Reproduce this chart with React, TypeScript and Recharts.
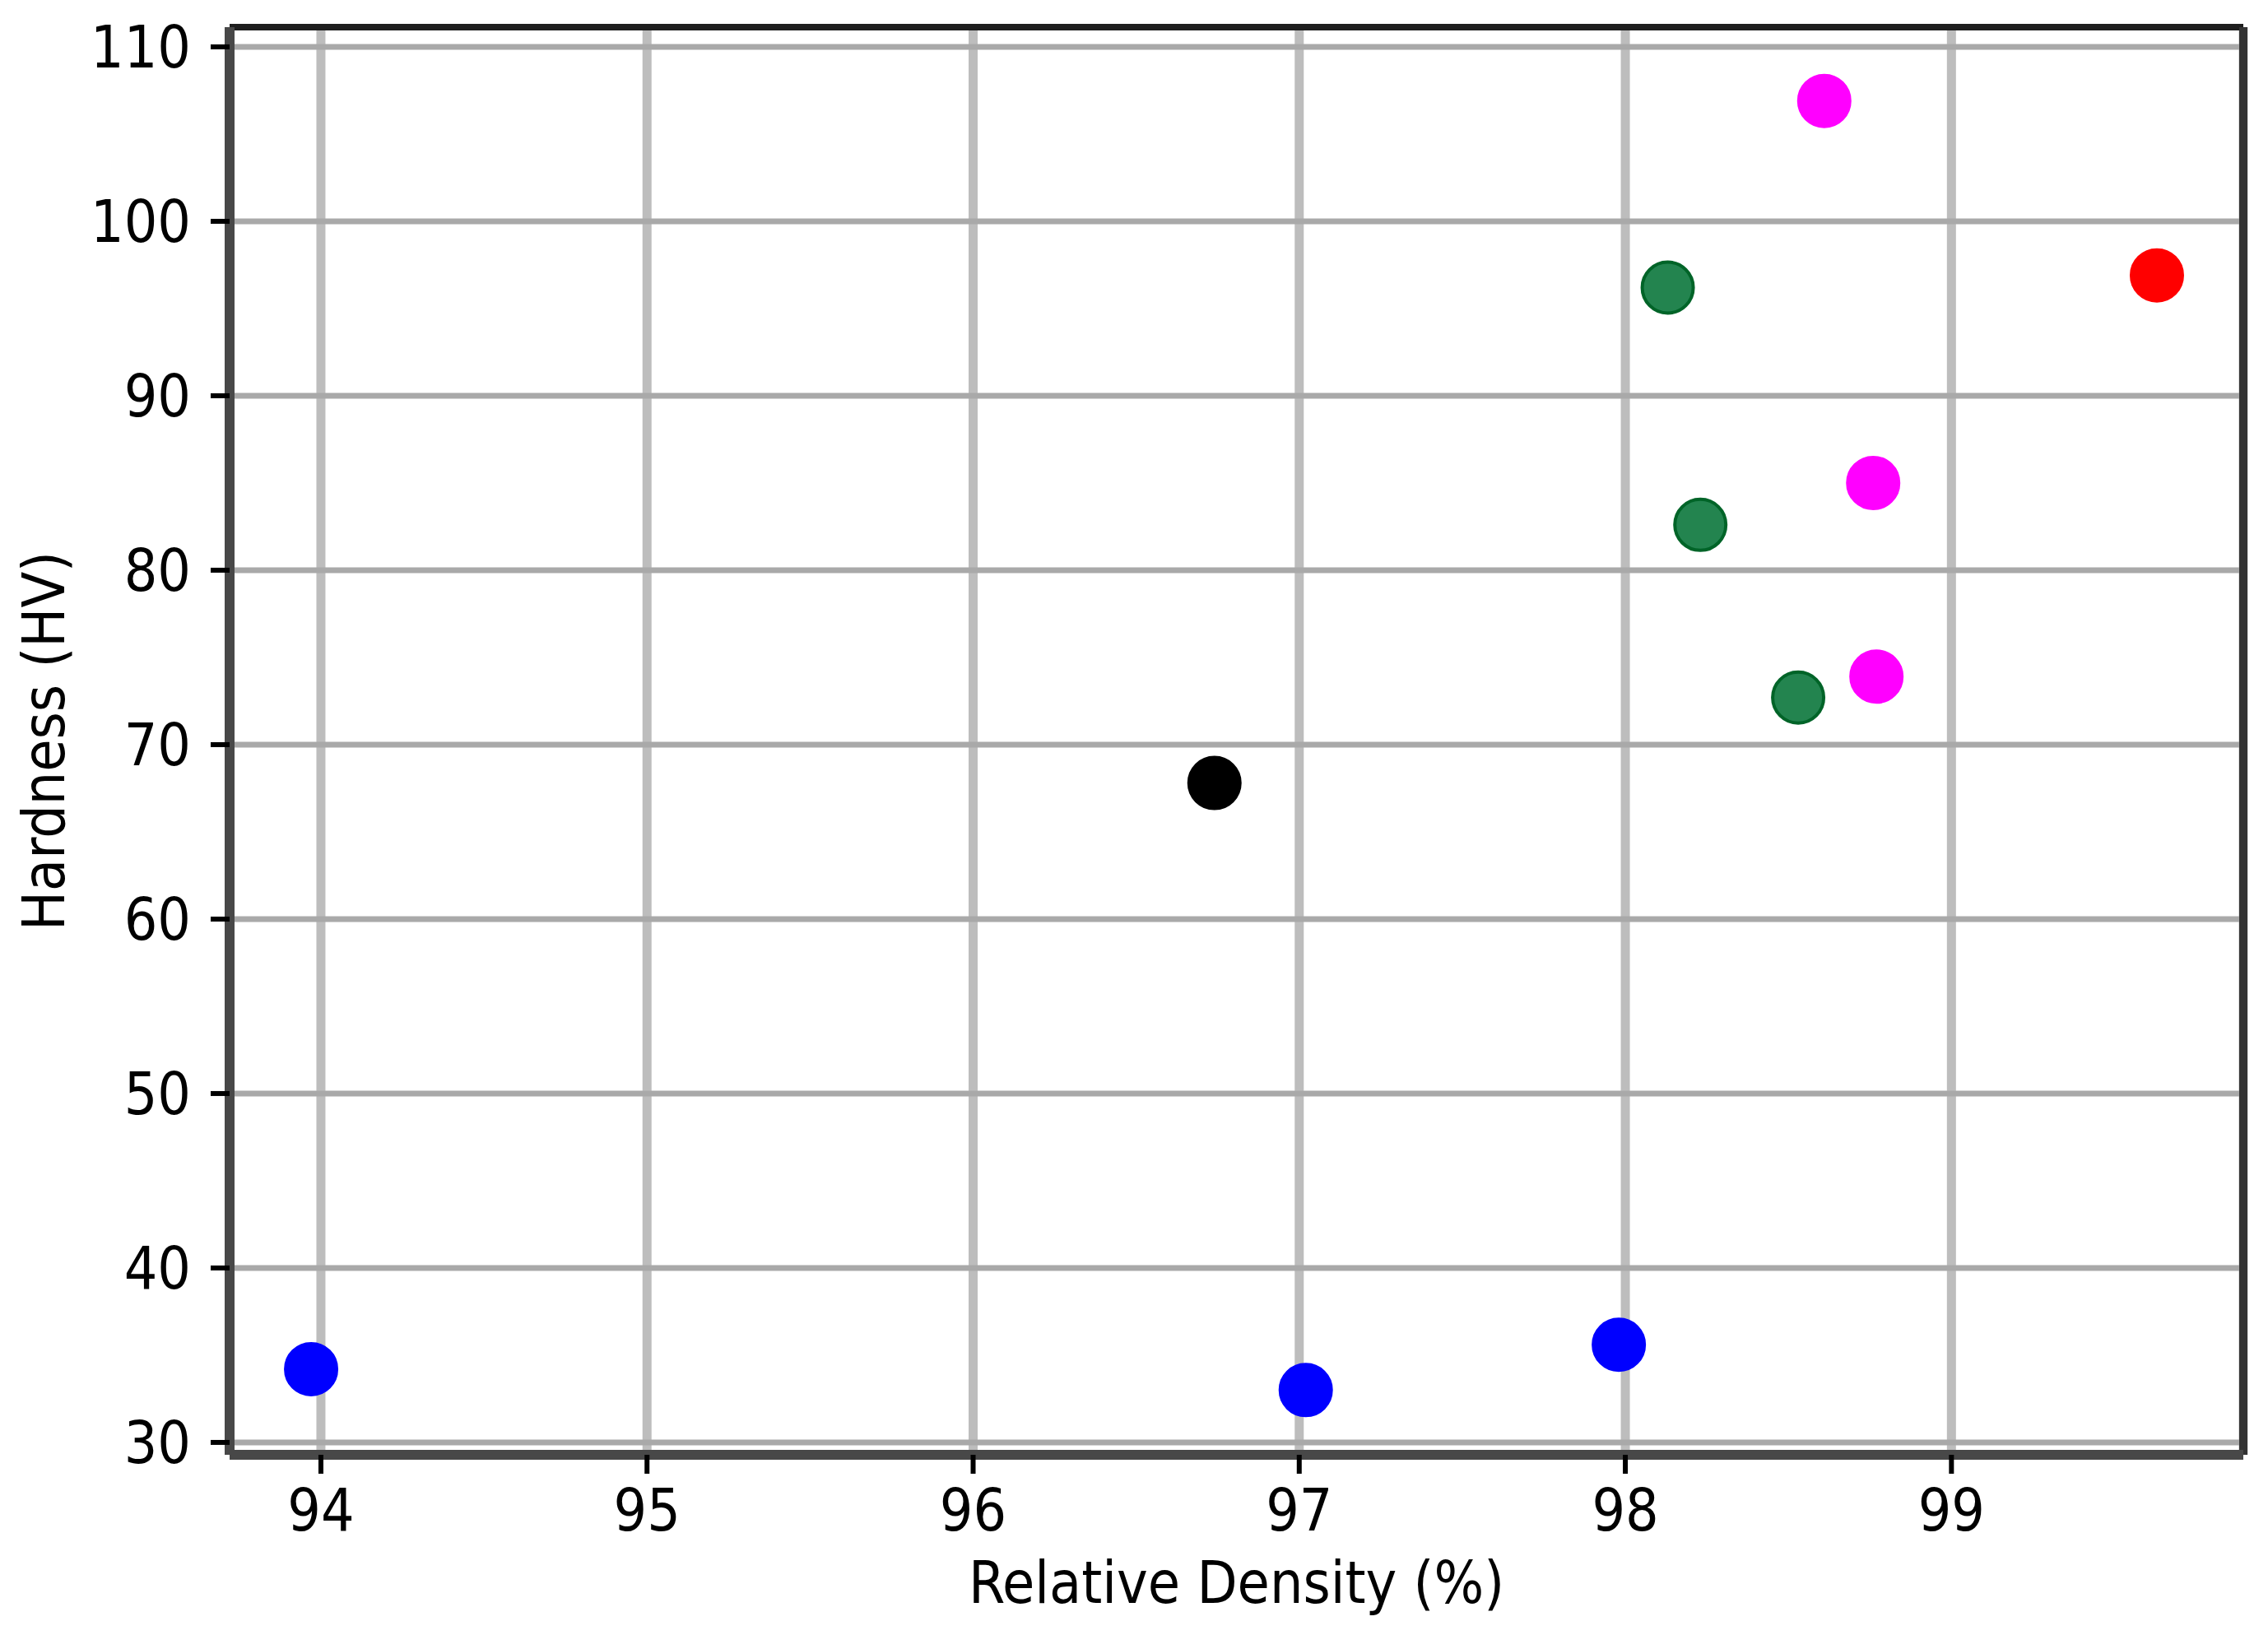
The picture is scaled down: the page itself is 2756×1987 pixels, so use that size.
import {
  CartesianGrid,
  ReferenceLine,
  Scatter,
  ScatterChart,
  XAxis,
  YAxis
} from "recharts";

// values
const blueDensity = [93.97, 97.02, 97.98];
const blueHardness = [34.2, 33.0, 35.6];
const blackDensity = [96.74];
const blackHardness = [67.8];
const greenDensity = [98.13, 98.23, 98.53];
const greenHardness = [96.2, 82.6, 72.7];
const magentaDensity = [98.61, 98.76, 98.77];
const magentaHardness = [106.9, 85.0, 73.9];
const redDensity = [99.63];
const redHardness = [96.9];

const xTicks = [94, 95, 96, 97, 98, 99];
const yTicks = [30, 40, 50, 60, 70, 80, 90, 100, 110];

const X_MIN = 93.72;
const X_MAX = 99.895;
const Y_MIN = 29.29;
const Y_MAX = 111.13;

const FONT = "'DejaVu Sans Condensed', 'DejaVu Sans', sans-serif";

const zip = (xs: number[], ys: number[]) =>
  xs.map((x, i) => ({ density: x, hardness: ys[i] }));

const series = [
  { name: "blue", data: zip(blueDensity, blueHardness), fill: "#0000ff", stroke: "#0000ff" },
  { name: "black", data: zip(blackDensity, blackHardness), fill: "#000000", stroke: "#000000" },
  { name: "green", data: zip(greenDensity, greenHardness), fill: "#23844f", stroke: "#006428" },
  { name: "magenta", data: zip(magentaDensity, magentaHardness), fill: "#ff00ff", stroke: "#ff00ff" },
  { name: "red", data: zip(redDensity, redHardness), fill: "#ff0000", stroke: "#ff0000" }
];

const dot = (fill: string, stroke: string) => (props: any) => (
  <circle cx={props.cx} cy={props.cy} r={31} fill={fill} stroke={stroke} strokeWidth={4} />
);

const tickStyle = { fontSize: 71, fontFamily: FONT, fill: "#000" };

export default function App() {
  return (
    <div style={{ position: "absolute", left: 0, top: 0, background: "#fff" }}>
      <ScatterChart
        width={2756}
        height={1987}
        margin={{ top: 33, right: 30, bottom: 0, left: 0 }}
      >
        <CartesianGrid horizontal={false} stroke="#bdbdbd" strokeWidth={11} />
        <CartesianGrid vertical={false} stroke="#a9a9a9" strokeWidth={7} />
        <XAxis
          type="number"
          dataKey="density"
          domain={[X_MIN, X_MAX]}
          ticks={xTicks}
          allowDataOverflow
          height={219}
          tickSize={23}
          tickMargin={19}
          tick={tickStyle}
          tickLine={{ stroke: "#000", strokeWidth: 6 }}
          axisLine={{ stroke: "#484848", strokeWidth: 12 }}
          label={{
            value: "Relative Density (%)",
            position: "insideBottom",
            offset: 39,
            fontSize: 71,
            fontFamily: FONT,
            fill: "#000"
          }}
        />
        <YAxis
          type="number"
          dataKey="hardness"
          domain={[Y_MIN, Y_MAX]}
          ticks={yTicks}
          allowDataOverflow
          width={279}
          tickSize={23}
          tickMargin={24}
          tick={tickStyle}
          tickLine={{ stroke: "#000", strokeWidth: 6 }}
          axisLine={{ stroke: "#484848", strokeWidth: 12 }}
          label={{
            value: "Hardness (HV)",
            angle: -90,
            position: "insideLeft",
            offset: 53,
            textAnchor: "middle",
            style: { textAnchor: "middle" },
            fontSize: 71,
            fontFamily: FONT,
            fill: "#000"
          }}
        />
        <ReferenceLine y={Y_MAX} stroke="#1e1e1e" strokeWidth={8} />
        <ReferenceLine x={X_MAX} stroke="#333333" strokeWidth={10} />
        {series.map((s) => (
          <Scatter
            key={s.name}
            data={s.data}
            shape={dot(s.fill, s.stroke)}
            isAnimationActive={false}
          />
        ))}
      </ScatterChart>
    </div>
  );
}
